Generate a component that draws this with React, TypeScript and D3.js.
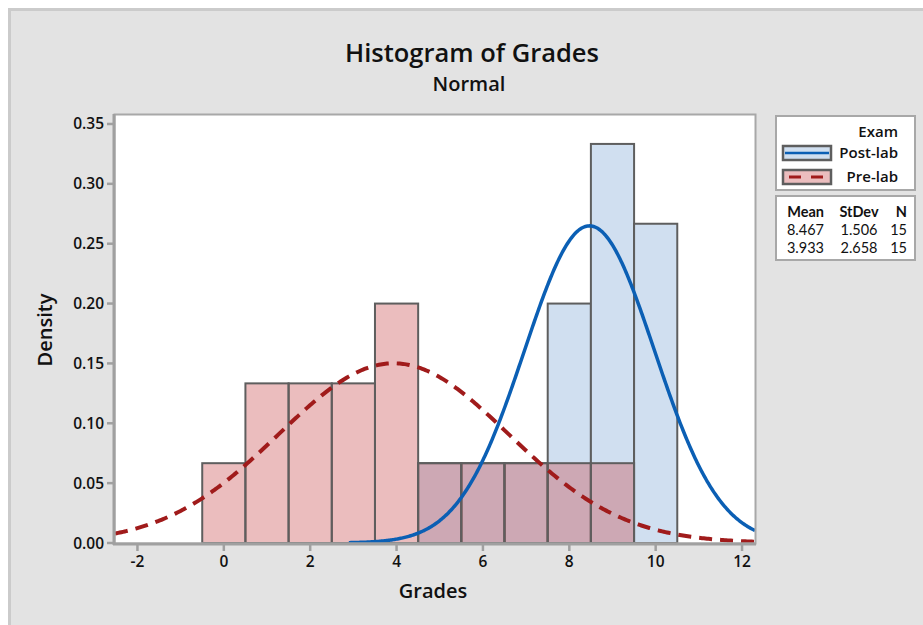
import React from "react";
import * as d3 from "d3";

const binCenters = [0, 1, 2, 3, 4, 5, 6, 7, 8, 9, 10];
const preLabCounts = [1, 2, 2, 2, 3, 1, 1, 1, 1, 1, 0];
const postLabCounts = [0, 0, 0, 0, 0, 1, 1, 1, 3, 5, 4];
const seriesNames = ["Post-lab", "Pre-lab"];
const means = [8.467, 3.933];
const stdevs = [1.506, 2.658];
const ns = [15, 15];
const xTicks = [-2, 0, 2, 4, 6, 8, 10, 12];
const yTicks = [0, 0.05, 0.1, 0.15, 0.2, 0.25, 0.3, 0.35];

const FONT = "'Open Sans', 'Noto Sans', sans-serif";
const TABLE_FONT = "Lato, 'Open Sans', sans-serif";

export default function App() {
  const L = 115, R = 755, T = 115, B = 543;
  const x = d3.scaleLinear().domain([-2.52, 12.3]).range([L, R]);
  const y = d3.scaleLinear().domain([0, 0.3575]).range([B, T]);

  const pdf = (v: number, m: number, s: number) =>
    Math.exp(-((v - m) ** 2) / (2 * s * s)) / (s * Math.sqrt(2 * Math.PI));

  const line = d3.line<[number, number]>().x(d => x(d[0])).y(d => y(d[1]));
  const curve = (m: number, s: number, lo: number, hi: number) => {
    const pts: [number, number][] = [];
    const n = 400;
    for (let i = 0; i <= n; i++) {
      const v = lo + ((hi - lo) * i) / n;
      pts.push([v, pdf(v, m, s)]);
    }
    return line(pts) || "";
  };
  const [xlo, xhi] = x.domain();
  const postPath = curve(means[0], stdevs[0], Math.max(xlo, means[0] - 3.7 * stdevs[0]), xhi);
  const prePath = curve(means[1], stdevs[1], xlo, xhi);

  const barStroke = "#5e5e5e";
  const postFill = "#d0dff0";
  const preFill = "rgb(199,72,75)";
  const preOpacity = 0.36;
  const blue = "#0b5fb4";
  const red = "#a01b1b";

  return (
    <svg width={923} height={625} style={{ position: "absolute", left: 0, top: 0, fontFamily: FONT }}>
      <defs>
        <clipPath id="plotclip">
          <rect x={L} y={T} width={R - L} height={B - T} />
        </clipPath>
      </defs>
      <rect x={0} y={0} width={923} height={625} fill="#ffffff" />
      <rect x={9.5} y={9.5} width={920} height={620} fill="#e3e3e3" stroke="#cbcbcb" strokeWidth={3} />

      <text x={472} y={62} textAnchor="middle" fontSize={25.5} fontWeight={600} fill="#111">Histogram of Grades</text>
      <text x={469} y={91} textAnchor="middle" fontSize={20} fontWeight={600} fill="#111">Normal</text>

      <rect x={L} y={T} width={R - L} height={B - T} fill="#ffffff" />

      <g clipPath="url(#plotclip)">
        {binCenters.map((c, i) =>
          postLabCounts[i] > 0 ? (
            <rect key={"post" + i} x={x(c - 0.5)} y={y(postLabCounts[i] / ns[0])}
              width={x(c + 0.5) - x(c - 0.5)} height={B - y(postLabCounts[i] / ns[0])}
              fill={postFill} stroke={barStroke} strokeWidth={2} />
          ) : null
        )}
        {binCenters.map((c, i) =>
          preLabCounts[i] > 0 ? (
            <rect key={"pre" + i} x={x(c - 0.5)} y={y(preLabCounts[i] / ns[1])}
              width={x(c + 0.5) - x(c - 0.5)} height={B - y(preLabCounts[i] / ns[1])}
              fill={preFill} fillOpacity={preOpacity} stroke={barStroke} strokeWidth={2} />
          ) : null
        )}
        <path d={postPath} fill="none" stroke={blue} strokeWidth={3.5} />
        <path d={prePath} fill="none" stroke={red} strokeWidth={4} strokeDasharray="13,8" />
      </g>

      <rect x={L - 0.5} y={T - 0.5} width={R - L + 1} height={B - T + 1} fill="none" stroke="#a8a8a8" strokeWidth={2} />
      <line x1={L - 1} x2={L - 1} y1={T - 1} y2={B + 2} stroke="#a0a0a0" strokeWidth={3} />
      <line x1={L - 2} x2={R + 1} y1={B + 1} y2={B + 1} stroke="#a0a0a0" strokeWidth={3} />

      {yTicks.map(t => (
        <g key={"y" + t}>
          <line x1={L - 8} x2={L - 2} y1={y(t)} y2={y(t)} stroke="#a0a0a0" strokeWidth={2.5} />
          <text x={104} y={y(t) + 5.5} textAnchor="end" fontSize={15.5} fontWeight={600} fill="#111">{d3.format(".2f")(t)}</text>
        </g>
      ))}
      {xTicks.map(t => (
        <g key={"x" + t}>
          <line x1={x(t)} x2={x(t)} y1={B + 2} y2={B + 8} stroke="#a0a0a0" strokeWidth={2.5} />
          <text x={x(t)} y={567} textAnchor="middle" fontSize={15.5} fontWeight={600} fill="#111">{t}</text>
        </g>
      ))}

      <text x={433} y={598} textAnchor="middle" fontSize={20} fontWeight={600} fill="#111">Grades</text>
      <text transform="translate(52,330) rotate(-90)" textAnchor="middle" fontSize={20} fontWeight={600} fill="#111">Density</text>

      {/* Legend */}
      <rect x={776} y={116} width={139} height={74} fill="#ffffff" stroke="#a8a8a8" strokeWidth={2} />
      <text x={898} y={137} textAnchor="end" fontSize={15} fontWeight={600} fill="#111">Exam</text>
      {[0, 1].map(i => {
        const sy = i === 0 ? 146 : 170;
        return (
          <g key={"leg" + i}>
            <rect x={783} y={sy} width={48} height={14}
              fill={i === 0 ? postFill : preFill} fillOpacity={i === 0 ? 1 : preOpacity}
              stroke={barStroke} strokeWidth={2.5} />
            <line x1={785} x2={829} y1={sy + 7} y2={sy + 7} stroke={i === 0 ? blue : red}
              strokeWidth={i === 0 ? 2.5 : 3} strokeDasharray={i === 0 ? undefined : "12,10"} strokeDashoffset={-4} />
            <text x={898} y={sy + 12} textAnchor="end" fontSize={15} fontWeight={600} fill="#111">{seriesNames[i]}</text>
          </g>
        );
      })}

      <rect x={776} y={196} width={139} height={64} fill="#ffffff" stroke="#a8a8a8" strokeWidth={2} />
      <g fontFamily={TABLE_FONT}>
        <text x={824} y={217} textAnchor="end" fontSize={14.5} fontWeight={700} fill="#111">Mean</text>
        <text x={859} y={217} textAnchor="middle" fontSize={14.5} fontWeight={700} fill="#111">StDev</text>
        <text x={907} y={217} textAnchor="end" fontSize={14.5} fontWeight={700} fill="#111">N</text>
        {[0, 1].map(i => (
          <g key={"st" + i}>
            <text x={824} y={235 + i * 18} textAnchor="end" fontSize={14.5} fill="#111">{means[i].toFixed(3)}</text>
            <text x={859} y={235 + i * 18} textAnchor="middle" fontSize={14.5} fill="#111">{stdevs[i].toFixed(3)}</text>
            <text x={907} y={235 + i * 18} textAnchor="end" fontSize={14.5} fill="#111">{ns[i]}</text>
          </g>
        ))}
      </g>
    </svg>
  );
}
